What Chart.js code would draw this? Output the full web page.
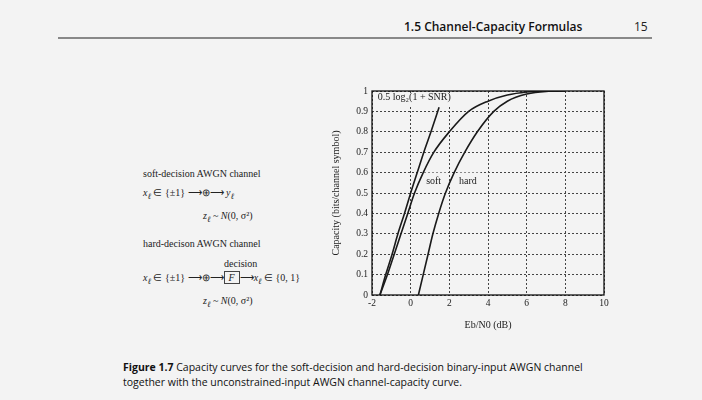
<!DOCTYPE html>
<html><head><meta charset="utf-8">
<script src="https://cdn.jsdelivr.net/npm/chart.js@4"></script>
<style>
body{margin:0;width:702px;height:400px;background:#f3f3f3;font-family:"Liberation Serif",serif;color:#222;position:relative;overflow:hidden}
.a{position:absolute;white-space:nowrap}
#wrap{position:absolute;left:330px;top:80px;width:290px;height:255px}
</style></head><body>
<div class="a" style="left:404px;top:18px;font-family:'Open Sans',sans-serif;font-weight:600;font-size:12px;color:#111">1.5 Channel-Capacity Formulas</div>
<div class="a" style="left:634px;top:18px;font-family:'Open Sans',sans-serif;font-size:12px">15</div>
<div class="a" style="left:58px;top:37px;width:594px;height:2px;background:#888"></div>
<div class="a" style="left:143px;top:168px;font-size:10px">soft-decision AWGN channel</div>
<div class="a" style="left:143px;top:187px;font-size:10px"><i>x<sub>ℓ</sub></i> ∈ {±1} ⟶⊕⟶ <i>y<sub>ℓ</sub></i></div>
<div class="a" style="left:203px;top:210px;font-size:10px"><i>z<sub>ℓ</sub></i> ~ <i>N</i>(0, σ²)</div>
<div class="a" style="left:143px;top:238px;font-size:10px">hard-decison AWGN channel</div>
<div class="a" style="left:224px;top:258px;font-size:10px">decision</div>
<div class="a" style="left:143px;top:272px;font-size:10px"><i>x<sub>ℓ</sub></i> ∈ {±1} ⟶⊕⟶<span style="border:1px solid #444;padding:0 4px"><i>F</i></span>⟶<i>x<sub>ℓ</sub></i> ∈ {0, 1}</div>
<div class="a" style="left:203px;top:295px;font-size:10px"><i>z<sub>ℓ</sub></i> ~ <i>N</i>(0, σ²)</div>
<div id="wrap"><canvas id="c"></canvas></div>
<div class="a" style="left:123px;top:360px;font-family:'Open Sans',sans-serif;font-size:10.5px;line-height:15px;color:#111"><b>Figure 1.7</b> Capacity curves for the soft-decision and hard-decision binary-input AWGN channel<br>together with the unconstrained-input AWGN channel-capacity curve.</div>
<script>
const shannonX=[-1.59,-1.29,-0.96,-0.66,-0.32,0,0.34,0.68,1.05,1.47];
const shannonY=[0,0.1,0.2,0.3,0.4,0.5,0.6,0.7,0.8,0.92];
const softX=[-1.59,-1.2,-0.85,-0.5,-0.15,0.2,0.65,1.2,2.0,3.0,4.0,5.0,6.0,7.0,8.0];
const softY=[0,0.1,0.2,0.3,0.4,0.5,0.6,0.7,0.8,0.9,0.95,0.98,0.995,1,1];
const hardX=[0.4,0.65,0.9,1.15,1.45,1.8,2.25,2.8,3.45,4.3,5.0,6.0,7.0,8.0];
const hardY=[0,0.1,0.2,0.3,0.4,0.5,0.6,0.7,0.8,0.9,0.95,0.985,0.998,1];
const xTicks=[-2,0,2,4,6,8,10];
const pts=(xs,ys)=>xs.map((x,i)=>({x,y:ys[i]}));
const ds=(d)=>({data:d,borderColor:'#1a1a1a',borderWidth:1.6,pointRadius:0,cubicInterpolationMode:'monotone',fill:false});
const frame={id:'frame',afterDatasetsDraw(ch){const c=ch.ctx,a=ch.chartArea;c.save();c.setLineDash([]);c.strokeStyle='#111';c.lineWidth=1.3;c.strokeRect(a.left,a.top,a.right-a.left,a.bottom-a.top);c.restore();}};
const labels={id:'lbl',afterDraw(ch){const c=ch.ctx,x=ch.scales.x,y=ch.scales.y;c.save();c.font='10px "Liberation Serif"';
c.fillStyle='#f3f3f3';c.fillRect(x.getPixelForValue(-1.8),y.getPixelForValue(0.99),80,12);c.fillStyle='#222';
c.fillText('0.5 log₂(1 + SNR)',x.getPixelForValue(-1.7),y.getPixelForValue(0.955));
c.fillStyle='#f3f3f3';c.fillRect(x.getPixelForValue(0.7),y.getPixelForValue(0.6),22,12);c.fillRect(x.getPixelForValue(2.4),y.getPixelForValue(0.6),24,12);c.fillStyle='#222';
c.fillText('soft',x.getPixelForValue(0.8),y.getPixelForValue(0.545));c.fillText('hard',x.getPixelForValue(2.5),y.getPixelForValue(0.545));c.restore();}};
new Chart(document.getElementById('c'),{type:'line',
data:{datasets:[ds(pts(shannonX,shannonY)),ds(pts(softX,softY)),ds(pts(hardX,hardY))]},
options:{animation:false,responsive:true,maintainAspectRatio:false,layout:{padding:{top:11,right:16}},
plugins:{legend:{display:false},tooltip:{enabled:false}},
scales:{
x:{type:'linear',min:-2,max:10,afterBuildTicks:a=>{a.ticks=xTicks.map(v=>({value:v}))},afterFit:a=>{a.height=40},
 grid:{color:'#444',lineWidth:1,drawTicks:false},border:{display:false,dash:[2,2]},
 ticks:{color:'#222',font:{family:'Liberation Serif',size:9.5},padding:3},
 title:{display:true,text:'Eb/N0 (dB)',color:'#222',font:{family:'Liberation Serif',size:10},padding:{top:2}}},
y:{min:0,max:1,ticks:{stepSize:0.1,color:'#222',font:{family:'Liberation Serif',size:9.5},padding:4,callback:v=>Math.round(v*10)/10},afterFit:a=>{a.width=42},
 grid:{color:'#444',lineWidth:1,drawTicks:false},border:{display:false,dash:[2,2]},
 title:{display:true,text:'Capacity (bits/channel symbol)',color:'#222',font:{family:'Liberation Serif',size:10},padding:0}}
}},plugins:[labels,frame]});
</script>
</body></html>
